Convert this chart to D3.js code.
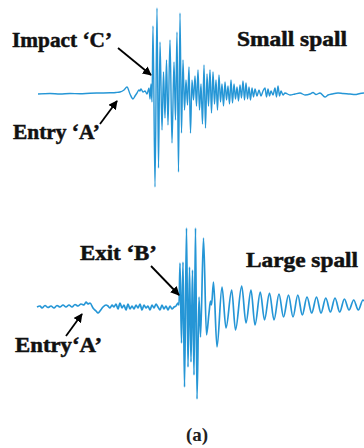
<!DOCTYPE html>
<html>
<head>
<meta charset="utf-8">
<script src="https://cdn.jsdelivr.net/npm/d3@7/dist/d3.min.js"></script>
<style>
  html, body { margin: 0; padding: 0; background: #fff; }
  svg { display: block; }
  .lbl { font-family: "Liberation Serif", "DejaVu Serif", "Times New Roman", serif; font-weight: bold; }
</style>
</head>
<body>
<div id="chart"></div>
<script>
// small spall signal (time in µs, amplitude in mV-ish units)
var smallT = [1, 13, 23, 33, 43, 53, 63, 73, 79, 83, 87, 90, 93, 96, 98, 100, 102, 103, 104, 106, 108, 110,
  112, 113, 114, 115, 116, 118, 120, 121.5, 123, 125, 126.5, 128, 129.5, 131, 133, 135, 137, 138.5, 140, 141.5,
  143, 144.5, 146, 147.5, 149, 150.5, 152, 153.5, 155, 156.5, 158, 159.5, 161, 162.5, 164, 165.5, 167, 168.5,
  170, 171.5, 173, 174.5, 176, 177.5, 179, 180.5, 182, 183.5, 185, 186.5, 188, 189.5, 191, 192.5, 194, 195.5,
  197, 198.5, 200, 201.5, 203, 204.5, 206, 207.5, 209, 210.5, 212, 213.5, 215, 216.5, 218, 220, 222, 224, 226,
  228, 229.5, 231, 232.5, 234, 236, 238, 239.5, 241, 242.5, 244, 246, 248, 253, 258, 263, 268, 273, 276, 279,
  283, 288, 291, 295, 301, 306, 313, 318, 323, 327];
var smallV = [0, 0.5, 0, 0.5, 0.3, 0.8, 1, 1.2, 1.5, 2, 4, 7, 0, -5, -2, 1, 4, 3, 5, 2, 3, 0,
  6, -5, 10, -8, 68, -93, 86, -74, 52, -36, 22, -24, 34, -31, 54, -49, 32, -26, 62, -78,
  81, -39, 34, -16, 14, -11, 27, -39, 14, -6, 18, -12, 24, -16, 10, -30, 29, -34,
  20, -12, 24, -19, 22, -10, 14, -16, 19, -8, 10, -12, 12, -6, 8, -10, 14, -9,
  10, -5, 7, -7, 9, -4, 13, -6, 11, -5, 7, -6, 6, -3, 5, -2, 4, -2, 3,
  6, -3, 5, -2, 3, -1, 6, -3, 8, -2, 3, -1, 1, -1, 0, 1, -1, 0, 1.5, -0.5,
  1, -3, -1, 0, 1, 0.5, 0, -0.5, 0.5, 1];

// large spall signal
var largeT = [0, 3, 5, 8, 11, 14, 17, 20, 23, 26, 29, 32, 35, 38, 41, 44, 47, 49, 51, 53, 56, 59, 61, 63,
  66, 69, 71, 73, 75, 77, 79, 81, 83, 85, 87, 89, 91, 93, 95, 97, 99, 101, 103, 105, 107, 109, 111, 113,
  115, 117, 119, 121, 123, 125, 127, 129, 131, 133, 135, 137, 139, 141, 142,
  143, 144.5, 146, 147.5, 149.5, 151, 152.5, 154, 155.5, 157, 158.5, 160, 162, 163.5, 166.5, 169.5,
  172, 173.5, 174.5, 176.5, 180, 185, 189, 194.7, 198.5, 204.7, 209, 214, 218, 223.3, 227.5, 232.5, 237,
  242, 246.5, 251.5, 256, 260.8, 265.3, 270, 274.7, 279.5, 284, 288.8, 293.4, 298, 302.7, 307.4, 312,
  316.7, 321.3, 326, 327];
var largeV = [0, 1, -1, 1.5, -0.5, 1, -1, 1.5, 0, 2, 0, 2, 0, 2.5, 1, 3, 2, 5, 3, 4, -1, -4, -6, -4,
  0, 2, 1, -1, 2, 0, 3, -2, 4, -1, 2, -3, 3, -2, 1, -2, 2, -1, 3, -3, 2, -1, 1, -3,
  2, -1, 3, 0, -3, 2, -2, 1, -3, 1, -2, 0, 1, 4, 2,
  44, -36, 45, -80, 79, -60, 40, -55, 37, -68, 79, -92, 10, -30, 69, -28,
  -6, 6, 2, 25, -40, 20, -21, 17, -23, 21, -16, 17, -18, 15, -13, 14, -13,
  13, -10, 12, -10, 12, -8, 10, -6, 10, -6, 9, -5, 9, -5, 8, -3,
  7, -3, 7, 6];

// annotations: [text, t, v, width]
var smallLabels = [["Impact \u2018C\u2019", -25, 47, 100], ["Small spall", 200, 48, 110], ["Entry \u2018A\u2019", -24, -45, 87]];
var largeLabels = [["Exit \u2018B\u2019", 43, 47, 77], ["Large spall", 209, 40, 112], ["Entry\u2018A\u2019", -22, -45, 87]];
// arrows: [t0, v0, t1, v1]
var smallArrows = [[81, 46, 114, 19], [63, -30, 80, -7]];
var largeArrows = [[114, 41, 142, 12], [29, -29, 45, -7]];

var W = 364, H = 448;
var lineColor = "#2596d6";

var svg = d3.select("#chart").append("svg")
  .attr("width", W).attr("height", H);

svg.append("defs").append("marker")
  .attr("id", "head")
  .attr("viewBox", "0 0 10 10")
  .attr("refX", 9).attr("refY", 5)
  .attr("markerWidth", 9).attr("markerHeight", 9)
  .attr("markerUnits", "userSpaceOnUse")
  .attr("orient", "auto")
  .append("path")
  .attr("d", "M0,0 L10,5 L0,10 z")
  .attr("fill", "#000");

var x = d3.scaleLinear().domain([0, 327]).range([37, 364]);

function drawPanel(T, V, baseY, labels, arrows, width) {
  var y = d3.scaleLinear().domain([-100, 100]).range([baseY + 100, baseY - 100]);
  var pts = T.map(function (t, i) { return [t, V[i]]; });

  var line = d3.line()
    .x(function (d) { return x(d[0]); })
    .y(function (d) { return y(d[1]); })
    .curve(d3.curveMonotoneX);

  svg.append("path")
    .datum(pts)
    .attr("fill", "none")
    .attr("stroke", lineColor)
    .attr("stroke-width", width)
    .attr("stroke-linejoin", "round")
    .attr("d", line);

  svg.selectAll(null)
    .data(arrows)
    .enter().append("line")
    .attr("x1", function (d) { return x(d[0]); })
    .attr("y1", function (d) { return y(d[1]); })
    .attr("x2", function (d) { return x(d[2]); })
    .attr("y2", function (d) { return y(d[3]); })
    .attr("stroke", "#000")
    .attr("stroke-width", 1.8)
    .attr("marker-end", "url(#head)");

  svg.selectAll(null)
    .data(labels)
    .enter().append("text")
    .attr("class", "lbl")
    .attr("x", function (d) { return x(d[1]); })
    .attr("y", function (d) { return y(d[2]); })
    .attr("textLength", function (d) { return d[3]; })
    .attr("lengthAdjust", "spacingAndGlyphs")
    .style("font-size", "21px")
    .attr("fill", "#111")
    .attr("stroke", "#111")
    .attr("stroke-width", 0.5)
    .text(function (d) { return d[0]; });
}

drawPanel(smallT, smallV, 94, smallLabels, smallArrows, 1.4);
drawPanel(largeT, largeV, 307, largeLabels, largeArrows, 1.7);

svg.append("text")
  .attr("class", "lbl")
  .attr("x", 197).attr("y", 441)
  .attr("text-anchor", "middle")
  .style("font-size", "19px")
  .attr("fill", "#222")
  .text("(a)");
</script>
</body>
</html>
